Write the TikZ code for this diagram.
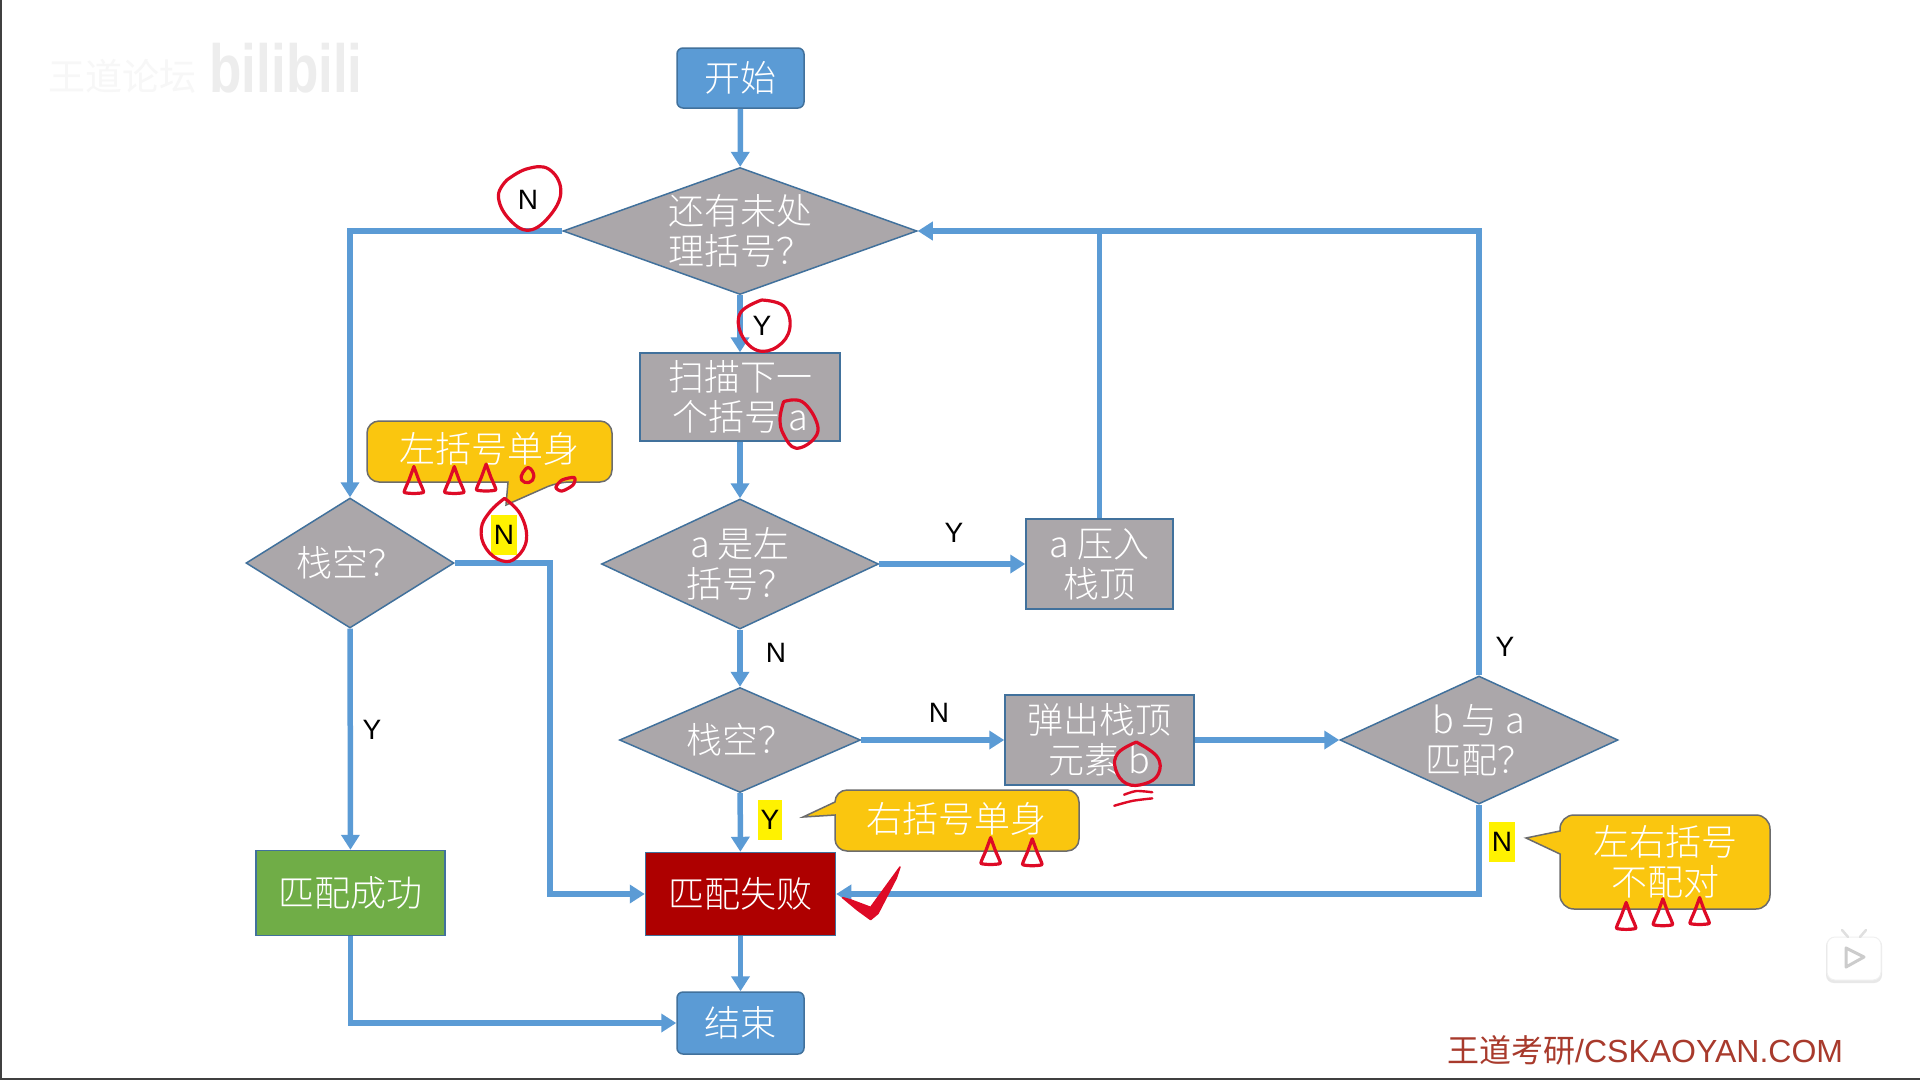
\documentclass[tikz,border=0pt]{standalone}
\usepackage{fontspec}
\usetikzlibrary{shapes.geometric,arrows.meta,calc}
\setmainfont{Liberation Sans}
\newfontfamily\cjk{Noto Sans CJK SC Light}
\newfontfamily\cjkr{Noto Sans CJK SC}
\definecolor{flowblue}{HTML}{5B9BD5}
\definecolor{edgeblue}{HTML}{41719C}
\definecolor{boxgray}{HTML}{ABA7AA}
\definecolor{notegold}{HTML}{FAC60F}
\definecolor{inkred}{HTML}{DE0A26}
\definecolor{brandred}{HTML}{A83A2C}
\definecolor{failred}{HTML}{AE0000}
\definecolor{okgreen}{HTML}{70AD47}
\tikzset{
  box/.style={draw=edgeblue,line width=1.5pt,inner sep=0,align=center,text=white,
    font=\cjk\fontsize{36}{40}\selectfont},
  bluebox/.style={box,fill=flowblue,rounded corners=6pt,minimum width=127pt,minimum height=60pt},
  graybox/.style={box,fill=boxgray},
  dia/.style 2 args={diamond,draw=edgeblue,line width=1.5pt,fill=boxgray,inner sep=0,
    minimum width=#1pt,minimum height=#2pt},
  dtext/.style={align=center,text=white,inner sep=0,font=\cjk\fontsize{36}{40}\selectfont},
  flow/.style={draw=flowblue,line width=5.5pt},
  arr/.style={flow,-{Triangle[length=15pt,width=18pt]}},
  lab/.style={font=\fontsize{28}{32}\selectfont,text=black,inner sep=0},
  hl/.style={lab,fill=yellow,inner xsep=2.5pt,inner ysep=10pt},
  note/.style={draw=gray!85!black,line width=1.5pt,fill=notegold},
  notetext/.style={align=center,text=white,inner sep=0,font=\cjk\fontsize{36}{40}\selectfont},
  ink/.style={draw=inkred,line width=3.2pt,line cap=round,line join=round},
}
\newcommand{\inktri}[2]{\draw[ink,shift={(#1,#2)}] plot[smooth,tension=.25] coordinates {(0,-13) (-4,-2) (-8,8) (0,9) (8,8) (4,-2) (0,-13)};}
\newcommand{\inkloop}[2]{\draw[ink,shift={(#1,#2)}] plot[smooth cycle,tension=.8] coordinates {(1,-7) (5,0) (1,5) (-5,3) (-4,-3)};}
\begin{document}
\begin{tikzpicture}[x=1pt,y=-1pt]
\useasboundingbox (0,0) rectangle (1920,1080);
\fill[white] (0,0) rectangle (1920,1080);
\draw[black!75,line width=2pt] (1,0) -- (1,1079) -- (1920,1079);

% watermark
\node[inner sep=0,text=black!3,font=\cjkr\fontsize{37}{40}\selectfont] (wm) at (122,76) {王道论坛};
\node[inner sep=0,text=black!7,xscale=.78,font=\bfseries\fontsize{68}{70}\selectfont] (bili) at (286,68) {bilibili};

% nodes
\node[bluebox] (start) at (740.5,78) {\raisebox{2pt}{开始}};
\node[dia={354}{127},label={[dtext]center:还有未处\\理括号？}] (d1) at (740,231) {};
\node[graybox,minimum width=200pt,minimum height=88pt] (scan) at (740,397) {扫描下一\\个括号 a};
\node[dia={277}{130},label={[dtext]center:a 是左\\括号？}] (d2) at (740,564) {};
\node[dia={208}{130},label={[dtext]center:栈空？}] (dl) at (350,563) {};
\node[dia={241}{105},label={[dtext]center:栈空？}] (d3) at (740,740) {};
\node[graybox,minimum width=147pt,minimum height=90pt] (push) at (1099.5,564) {a 压入\\栈顶};
\node[graybox,minimum width=189pt,minimum height=90pt] (pop) at (1099.5,740) {弹出栈顶\\元素 b};
\node[dia={278}{128},label={[dtext]center:b 与 a\\匹配？}] (d4) at (1479,740) {};
\node[box,fill=failred,minimum width=190pt,minimum height=83pt] (fail) at (740.5,894) {匹配失败};
\node[box,fill=okgreen,minimum width=189pt,minimum height=85pt] (ok) at (350.5,893) {匹配成功};
\node[bluebox,minimum height=62pt] (stop) at (740.5,1023) {\raisebox{2pt}{结束}};

% connectors
\coordinate (bend) at (550,800);
\draw[arr] (start) -- (d1);
\draw[arr] (d1) -- (scan);
\draw[arr] (scan) -- (d2);
\draw[arr] (d2) -- (d3);
\draw[arr] (d3) -- (fail);
\draw[arr] (fail) -- (stop);
\draw[arr] (d1.west) -| (dl.north);
\draw[arr] (dl) -- (ok);
\draw[arr] (dl.east) -| (bend) |- (fail.west);
\draw[arr] (ok.south) |- (stop.west);
\draw[arr] (d2) -- (push);
\draw[flow] (push.north) -- (push.north |- d1.east);
\draw[arr] (d4.north) |- (d1.east);
\draw[arr] (d3) -- (pop);
\draw[arr] (pop) -- (d4);
\draw[arr] (d4.south) |- (fail.east);

% callouts
\draw[note,rounded corners=12pt] (367,421) -- (612,421) -- (612,482) -- (558,482) [sharp corners] -- (506,505) -- (508,482) [rounded corners=12pt] -- (367,482) -- cycle;
\node[notetext] (n1) at (489,449) {左括号单身};
\draw[note,rounded corners=12pt] (835,790) -- (1079,790) -- (1079,851) -- (835,851) [sharp corners] -- (835,815) -- (803,817) -- (835,802) [rounded corners=12pt] -- cycle;
\node[notetext] (n2) at (956,819) {右括号单身};
\draw[note,rounded corners=14pt] (1560,815) -- (1770,815) -- (1770,909) -- (1560,909) [sharp corners] -- (1560,854) -- (1526,838) -- (1560,831) [rounded corners=14pt] -- cycle;
\node[notetext] (n3) at (1665,862) {左右括号\\不配对};

% labels
\node[lab] (yb) at (954,533) {Y};
\node[lab] (nc) at (776,653) {N};
\node[lab] (nd) at (939,713) {N};
\node[lab] (ye) at (372,730) {Y};
\node[lab] (yf) at (1505,647) {Y};
\node[lab] (na) at (528,200) {N};
\node[lab] (ya) at (762,326) {Y};
\node[hl] (nh) at (504,535) {N};
\node[hl] (yh) at (770,820) {Y};
\node[hl] (nk) at (1502,842) {N};

% handwriting
\begin{scope}[x=1.2245pt,y=-1.2245pt]
\draw[ink] plot[smooth,tension=.7] coordinates {(414,147) (430,138) (448,138) (458,155) (450,175) (432,188) (415,178) (407,160) (414,147)};
\draw[ink] plot[smooth,tension=.7] coordinates {(622,245) (640,250) (645,268) (635,283) (618,286) (605,272) (605,255) (622,245)};
\draw[ink] plot[smooth,tension=.7] coordinates {(640,328) (655,328) (667,345) (665,358) (650,366) (640,355) (637,342) (640,328)};
\draw[ink] plot[smooth,tension=.7] coordinates {(412,407) (425,420) (430,440) (422,455) (410,458) (397,448) (393,432) (400,418) (412,407)};
\draw[ink] plot[smooth,tension=.7] coordinates {(928,606) (945,618) (946,632) (935,640) (920,640) (911,628) (913,615) (928,606)};
\draw[ink,line width=2.4pt] plot[smooth] coordinates {(918,649) (928,646) (941,647)};
\draw[ink,line width=2.4pt] plot[smooth] coordinates {(910,658) (925,654) (941,652)};
\inktri{338}{394}\inktri{371}{394}\inktri{397}{392}
\inkloop{431}{389}
\draw[ink,shift={(462,395)}] plot[smooth cycle] coordinates {(7,-5) (6,1) (-3,6) (-8,3) (-3,-3)};
\inktri{809}{697}\inktri{843}{698}
\inktri{1328}{750}\inktri{1358}{747}\inktri{1388}{746}
\draw[inkred,fill=inkred,line join=round,line width=1.5pt] (688,733) -- (695,735) -- (711,741) -- (735,708) -- (732,717) -- (717,746) -- (711,751) -- (700,743) -- cycle;
\end{scope}

% play icon
\fill[black!9,rounded corners=8pt] (1826,938) rectangle (1882,983);
\draw[black!6,fill=white,line width=1pt,rounded corners=8pt] (1827,937) rectangle (1881,980);
\draw[black!12,line width=2.5pt,line cap=round] (1842,930) -- (1848,937) (1866,930) -- (1860,937);
\draw[black!20,fill=white,line width=3pt,line join=round] (1846,948) -- (1864,957) -- (1846,967) -- cycle;

% brand
\node[inner sep=0,anchor=west,text=brandred,font=\fontsize{32}{36}\selectfont] (brand) at (1447,1050) {{\cjkr 王道考研}/CSKAOYAN.COM};
\end{tikzpicture}
\end{document}
